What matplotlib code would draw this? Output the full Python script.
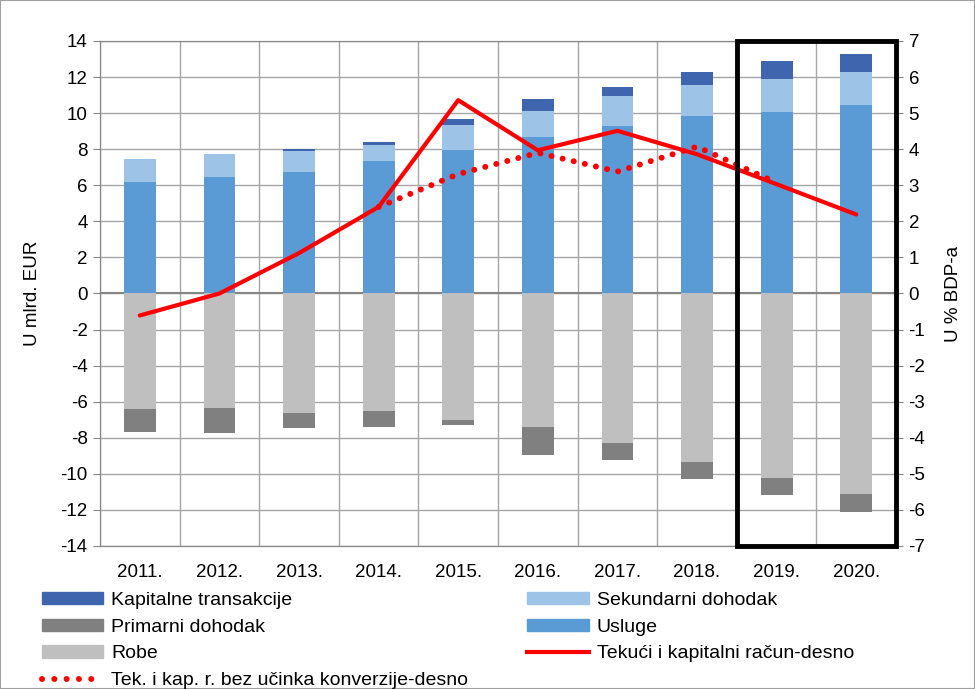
import matplotlib
matplotlib.use("Agg")
import matplotlib.pyplot as plt
import numpy as np
from matplotlib.patches import Rectangle, Patch
from matplotlib.lines import Line2D

plt.rcParams['font.family'] = ['Liberation Sans', 'DejaVu Sans']
plt.rcParams['axes.unicode_minus'] = False

years = ['2011.', '2012.', '2013.', '2014.', '2015.', '2016.', '2017.', '2018.', '2019.', '2020.']
usluge = [6.18, 6.46, 6.74, 7.33, 7.98, 8.67, 9.30, 9.83, 10.07, 10.44]
sekundarni = [1.25, 1.25, 1.17, 0.89, 1.35, 1.44, 1.63, 1.74, 1.82, 1.86]
kapitalne = [0.04, 0.05, 0.08, 0.17, 0.32, 0.67, 0.50, 0.69, 0.98, 1.00]
robe = [-6.40, -6.33, -6.61, -6.54, -7.01, -7.39, -8.28, -9.37, -10.22, -11.13]
primarni = [-1.28, -1.43, -0.87, -0.85, -0.27, -1.57, -0.96, -0.94, -0.98, -0.96]
tekuci = [-0.61, 0.0, 1.12, 2.40, 5.36, 3.97, 4.51, 3.86, 3.03, 2.19]
bez_konv_years = [3, 4, 5, 6, 7, 8]
bez_konv = [2.40, 3.31, 3.90, 3.38, 4.07, 3.07]

c_kap = '#3E65AE'
c_sek = '#9DC3E6'
c_usl = '#5B9BD5'
c_prim = '#808080'
c_robe = '#BFBFBF'
c_red = '#FF0000'
grid_c = '#A6A6A6'
fs = 13.5

fig = plt.figure(figsize=(9.75, 6.89), dpi=100)
ax = fig.add_axes([0.1026, 0.2076, 0.8164, 0.7329])
x = np.arange(len(years))
w = 0.4

ax.bar(x, usluge, w, color=c_usl, zorder=3)
ax.bar(x, sekundarni, w, bottom=usluge, color=c_sek, zorder=3)
ax.bar(x, kapitalne, w, bottom=np.array(usluge) + np.array(sekundarni), color=c_kap, zorder=3)
ax.bar(x, robe, w, color=c_robe, zorder=3)
ax.bar(x, primarni, w, bottom=robe, color=c_prim, zorder=3)

ax.set_xlim(-0.5, 9.5)
ax.set_ylim(-14, 14)
ax.set_yticks(np.arange(-14, 15, 2))
ax.set_xticks(x)
ax.set_xticklabels(years)
ax.set_xticks(np.arange(-0.5, 10, 1), minor=True)
ax.grid(True, which='major', axis='y', color=grid_c, lw=1, zorder=0)
ax.grid(True, which='minor', axis='x', color=grid_c, lw=1, zorder=0)
ax.axhline(0, color='#868686', lw=1.5, zorder=2)
ax.tick_params(axis='x', which='both', length=0, pad=13, labelsize=fs)
ax.tick_params(axis='y', length=5, color='#868686', labelsize=fs, pad=4)
for s in ax.spines.values():
    s.set_color('#868686')
ax.set_ylabel('U mlrd. EUR', fontsize=fs, labelpad=14)

ax2 = ax.twinx()
ax2.set_ylim(-7, 7)
ax2.set_yticks(np.arange(-7, 8, 1))
ax2.tick_params(axis='y', length=5, color='#868686', labelsize=fs, pad=4)
for s in ax2.spines.values():
    s.set_color('#868686')
ax2.set_ylabel('U % BDP-a', fontsize=fs, labelpad=14, rotation=90)

ax2.plot(bez_konv_years, bez_konv, color=c_red, lw=4.3, linestyle=(0, (0.01, 1.9)),
         dash_capstyle='round', zorder=4)
ax2.plot(x, tekuci, color=c_red, lw=3, solid_capstyle='round', zorder=5)

ax2.add_patch(Rectangle((7.5, -7), 2, 14, fill=False, edgecolor='black', lw=3.5,
                        clip_on=False, zorder=6))

fig.patches.append(Rectangle((0, 0), 1, 1, transform=fig.transFigure, fill=False,
                             edgecolor='#A0A0A0', lw=1.5))

h1 = [Patch(color=c_kap), Patch(color=c_prim), Patch(color=c_robe),
      Line2D([], [], color=c_red, lw=4.3, linestyle=(0, (0.01, 2.05)), dash_capstyle='round')]
l1 = ['Kapitalne transakcije', 'Primarni dohodak', 'Robe', 'Tek. i kap. r. bez učinka konverzije-desno']
h2 = [Patch(color=c_sek), Patch(color=c_usl), Line2D([], [], color=c_red, lw=3)]
l2 = ['Sekundarni dohodak', 'Usluge', 'Tekući i kapitalni račun-desno']

kw = dict(frameon=False, fontsize=14, handlelength=3.15, handleheight=0.6,
          handletextpad=0.4, labelspacing=0.5, borderpad=0, borderaxespad=0)
fig.legend(h1, l1, loc='upper left', bbox_to_anchor=(0.043, 0.141), **kw)
fig.legend(h2, l2, loc='upper left', bbox_to_anchor=(0.541, 0.141), **kw)

fig.savefig('out.png', dpi=100)
